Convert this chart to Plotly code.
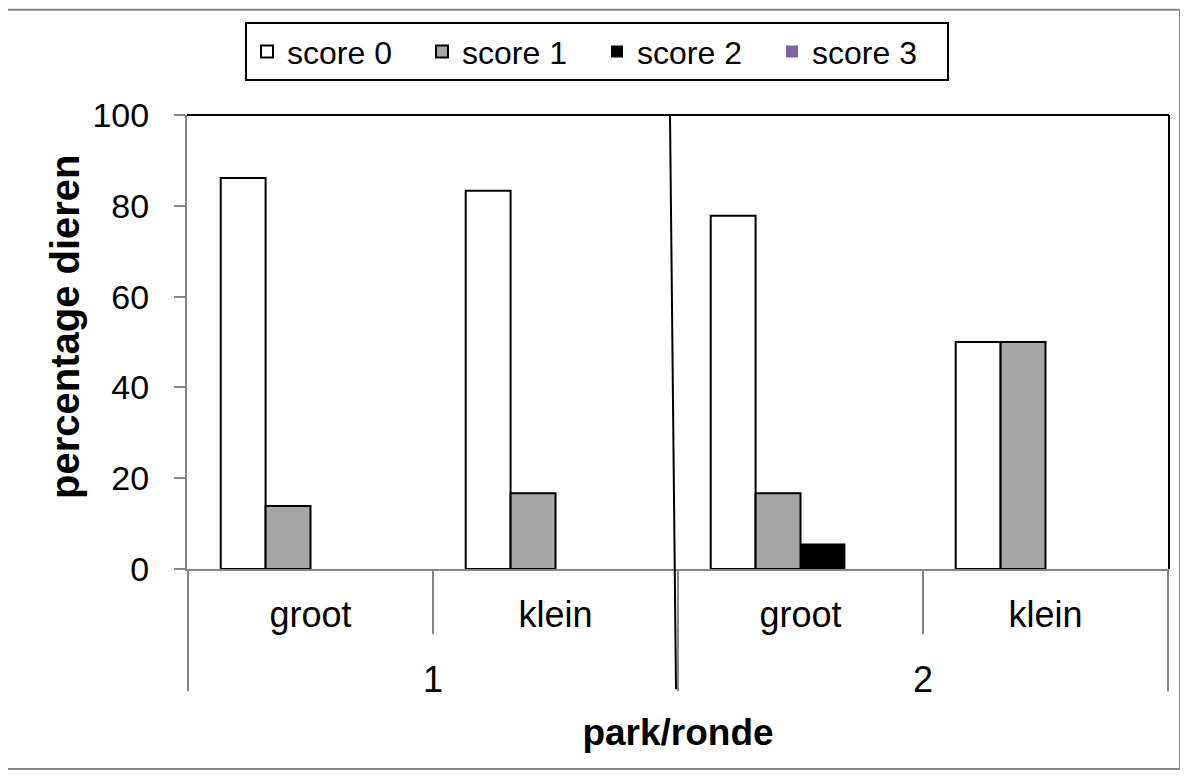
import plotly.graph_objects as go

parks = ["1", "1", "2", "2"]
sizes = ["groot", "klein", "groot", "klein"]
series_names = ["score 0", "score 1", "score 2", "score 3"]
score0 = [86.1, 83.3, 77.8, 50.0]
score1 = [13.9, 16.7, 16.7, 50.0]
score2 = [0, 0, 5.6, 0]
score3 = [0, 0, 0, 0]
colors = ["#ffffff", "#a6a6a6", "#000000", "#8064a2"]
line_widths = [2, 2, 0, 0]
y_ticks = [0, 20, 40, 60, 80, 100]
x_title = "park/ronde"
y_title = "percentage dieren"

categories = [p + " " + s for p, s in zip(parks, sizes)]

OFF = 8  # page body margin
W, H = 1188 - 2 * OFF, 778 - 2 * OFF
L, R, T, B = 187 - OFF, 1169 - OFF, 114.5 - OFF, 569.5 - OFF


def px(sx):
    return (sx - OFF - L) / (R - L)


def py(sy):
    return (B - (sy - OFF)) / (B - T)


fig = go.Figure()
for name, vals, c, lw in zip(series_names, [score0, score1, score2, score3], colors, line_widths):
    fig.add_trace(go.Bar(x=categories, y=vals, name=name,
                         marker=dict(color=c, line=dict(color="#000000", width=lw))))

font = "Liberation Sans, Arial, sans-serif"
gray = "#868686"
fig.update_layout(
    width=W, height=H,
    margin=dict(l=L, r=W - R, t=T, b=H - B, pad=0, autoexpand=False),
    paper_bgcolor="white", plot_bgcolor="white",
    barmode="group", bargap=0.267, bargroupgap=0,
    font=dict(family=font, size=34, color="black"),
    showlegend=True,
    legend=dict(orientation="h", x=px(597), y=py(51), xanchor="center", yanchor="middle",
                bordercolor="black", borderwidth=2, bgcolor="white",
                font=dict(size=32), itemwidth=30, traceorder="normal",
                entrywidth=130, entrywidthmode="pixels"),
    xaxis=dict(type="category", categoryarray=categories, categoryorder="array",
               tickvals=categories, ticktext=sizes,
               showline=True, linecolor=gray, linewidth=2, ticks="",
               tickfont=dict(size=36), ticklabelstandoff=13, showgrid=False,
               automargin=False,
               title=dict(text="<b>" + x_title + "</b>", font=dict(size=37), standoff=85)),
    yaxis=dict(range=[0, 100], tickvals=y_ticks, showline=True, linecolor=gray, linewidth=2,
               ticks="outside", ticklen=11, tickcolor=gray, tickwidth=2,
               showgrid=False, zeroline=False, tickfont=dict(size=34), ticklabelstandoff=18,
               automargin=False),
)

# y-axis title placed like the original (slightly above the plot centre)
fig.add_annotation(x=px(65), xref="paper", y=py(327), yref="paper",
                   text="<b>" + y_title + "</b>", textangle=-90, showarrow=False,
                   font=dict(size=40), xanchor="center", yanchor="middle")

# category dividers (short) and group dividers (long), at category boundaries
n = len(categories)
for i in range(n + 1):
    b = i - 0.5
    is_group = i == 0 or i == n or parks[i] != parks[i - 1]
    fig.add_shape(type="line", xref="x", yref="paper", x0=b, x1=b,
                  y0=0, y1=py(692) if is_group else py(635),
                  line=dict(color=gray, width=2))

# second-level (park) labels centred under each group
groups = []
for i, p in enumerate(parks):
    if not groups or groups[-1][0] != p:
        groups.append([p, i, i])
    else:
        groups[-1][2] = i
for p, i0, i1 in groups:
    fig.add_annotation(x=(i0 + i1) / 2, xref="x", y=py(680), yref="paper",
                       text=p, showarrow=False, font=dict(size=36),
                       xanchor="center", yanchor="middle")

# plot area top/right black border
fig.add_shape(type="line", xref="paper", yref="paper", x0=0, x1=1, y0=1, y1=1,
              line=dict(color="black", width=2))
fig.add_shape(type="line", xref="paper", yref="paper", x0=1, x1=1, y0=0, y1=1,
              line=dict(color="black", width=2))
# slanted separator
fig.add_shape(type="line", xref="paper", yref="paper", x0=px(670), x1=px(676), y0=1, y1=py(690),
              line=dict(color="black", width=2))
# outer chart border
fig.add_shape(type="rect", xref="paper", yref="paper", x0=px(7), x1=px(1180), y0=py(9), y1=py(770),
              line=dict(color=gray, width=2), layer="below")

fig.write_html("out.html")
